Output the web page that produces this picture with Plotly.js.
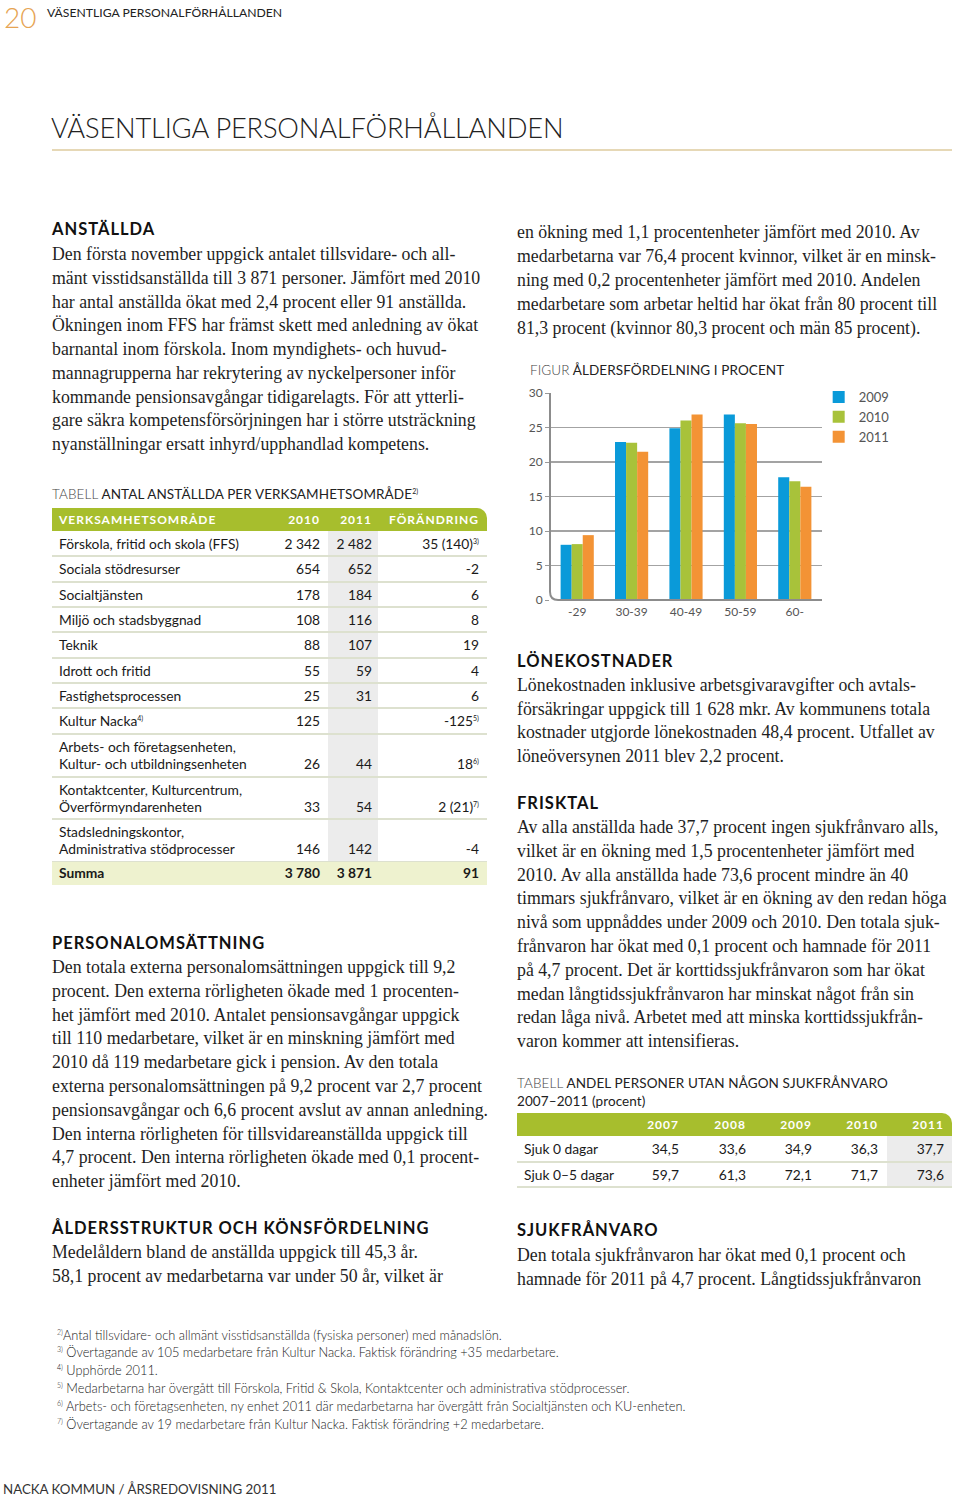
<!DOCTYPE html>
<html><head><meta charset="utf-8">
<script src="https://cdn.plot.ly/plotly-3.0.1.min.js"></script>
<style>
html,body{margin:0;padding:0;background:#fff;}
body{width:960px;height:1497px;position:relative;overflow:hidden;font-family:Lato,"Open Sans",sans-serif;color:#1a1a1a;}
.abs{position:absolute;white-space:nowrap;}
.serif{font-family:"Liberation Serif","DejaVu Serif",serif;font-size:17.8px;color:#1f1f1f;}
.h{font-family:Lato,sans-serif;font-weight:700;font-size:16.5px;letter-spacing:1px;color:#111;}
.cap{font-family:Lato,sans-serif;font-size:13.5px;letter-spacing:0.1px;color:#222;}
.cap .lt{font-weight:300;color:#444;}
.fn{font-family:Lato,sans-serif;font-weight:300;font-size:12.8px;color:#222;}
.fn sup,.cell sup{font-size:7px;vertical-align:5px;line-height:0;}
.cell{position:absolute;white-space:nowrap;font-family:Lato,sans-serif;font-size:13.8px;color:#1a1a1a;}
.hd{font-weight:700;color:#fff;font-size:12px;letter-spacing:1px;}
</style></head>
<body>
<div id="page"></div>
<div id="chart" style="position:absolute;left:517px;top:380px;width:443px;height:250px;"></div>
<script>
// ---------- chart data ----------
const ageGroups = ['-29', '30-39', '40-49', '50-59', '60-'];
const seriesNames = ['2009', '2010', '2011'];
const share2009 = [8.0, 22.9, 24.9, 26.9, 17.8];
const share2010 = [8.1, 22.8, 26.0, 25.6, 17.2];
const share2011 = [9.4, 21.5, 26.9, 25.5, 16.4];
const yTicks = [0, 5, 10, 15, 20, 25, 30];

// ---------- table 1 data ----------
const areaNames = ['Förskola, fritid och skola (FFS)', 'Sociala stödresurser', 'Socialtjänsten', 'Miljö och stadsbyggnad', 'Teknik', 'Idrott och fritid', 'Fastighetsprocessen', 'Kultur Nacka<sup>4)</sup>', 'Arbets- och företagsenheten,<br>Kultur- och utbildningsenheten', 'Kontaktcenter, Kulturcentrum,<br>Överförmyndarenheten', 'Stadsledningskontor,<br>Administrativa stödprocesser'];
const staff2010 = ['2 342', '654', '178', '108', '88', '55', '25', '125', '26', '33', '146'];
const staff2011 = ['2 482', '652', '184', '116', '107', '59', '31', '', '44', '54', '142'];
const staffChange = ['35 (140)<sup>3)</sup>', '-2', '6', '8', '19', '4', '6', '-125<sup>5)</sup>', '18<sup>6)</sup>', '2 (21)<sup>7)</sup>', '-4'];
const staffTotal = ['Summa', '3 780', '3 871', '91'];
const table1Head = ['VERKSAMHETSOMRÅDE', '2010', '2011', 'FÖRÄNDRING'];

// ---------- table 2 data ----------
const sickYears = ['2007', '2008', '2009', '2010', '2011'];
const sickRows = ['Sjuk 0 dagar', 'Sjuk 0–5 dagar'];
const sick0 = ['34,5', '33,6', '34,9', '36,3', '37,7'];
const sick05 = ['59,7', '61,3', '72,1', '71,7', '73,6'];

// ---------- texts ----------
const p1 = ['Den första november uppgick antalet tillsvidare- och all-', 'mänt visstidsanställda till 3 871 personer. Jämfört med 2010', 'har antal anställda ökat med 2,4 procent eller 91 anställda.', 'Ökningen inom FFS har främst skett med anledning av ökat', 'barnantal inom förskola. Inom myndighets- och huvud-', 'mannagrupperna har rekrytering av nyckelpersoner inför', 'kommande pensionsavgångar tidigarelagts. För att ytterli-', 'gare säkra kompetensförsörjningen har i större utsträckning', 'nyanställningar ersatt inhyrd/upphandlad kompetens.'];
const p2 = ['Den totala externa personalomsättningen uppgick till 9,2', 'procent. Den externa rörligheten ökade med 1 procenten-', 'het jämfört med 2010. Antalet pensionsavgångar uppgick', 'till 110 medarbetare, vilket är en minskning jämfört med', '2010 då 119 medarbetare gick i pension. Av den totala', 'externa personalomsättningen på 9,2 procent var 2,7 procent', 'pensionsavgångar och 6,6 procent avslut av annan anledning.', 'Den interna rörligheten för tillsvidareanställda uppgick till', '4,7 procent. Den interna rörligheten ökade med 0,1 procent-', 'enheter jämfört med 2010.'];
const p3 = ['Medelåldern bland de anställda uppgick till 45,3 år.', '58,1 procent av medarbetarna var under 50 år, vilket är'];
const p4 = ['en ökning med 1,1 procentenheter jämfört med 2010. Av', 'medarbetarna var 76,4 procent kvinnor, vilket är en minsk-', 'ning med 0,2 procentenheter jämfört med 2010. Andelen', 'medarbetare som arbetar heltid har ökat från 80 procent till', '81,3 procent (kvinnor 80,3 procent och män 85 procent).'];
const p5 = ['Lönekostnaden inklusive arbetsgivaravgifter och avtals-', 'försäkringar uppgick till 1 628 mkr. Av kommunens totala', 'kostnader utgjorde lönekostnaden 48,4 procent. Utfallet av', 'löneöversynen 2011 blev 2,2 procent.'];
const p6 = ['Av alla anställda hade 37,7 procent ingen sjukfrånvaro alls,', 'vilket är en ökning med 1,5 procentenheter jämfört med', '2010. Av alla anställda hade 73,6 procent mindre än 40', 'timmars sjukfrånvaro, vilket är en ökning av den redan höga', 'nivå som uppnåddes under 2009 och 2010. Den totala sjuk-', 'frånvaron har ökat med 0,1 procent och hamnade för 2011', 'på 4,7 procent. Det är korttidssjukfrånvaron som har ökat', 'medan långtidssjukfrånvaron har minskat något från sin', 'redan låga nivå. Arbetet med att minska korttidssjukfrån-', 'varon kommer att intensifieras.'];
const p7 = ['Den totala sjukfrånvaron har ökat med 0,1 procent och', 'hamnade för 2011 på 4,7 procent. Långtidssjukfrånvaron'];
const notes = ['<sup>2)</sup>Antal tillsvidare- och allmänt visstidsanställda (fysiska personer) med månadslön.', '<sup>3)</sup> Övertagande av 105 medarbetare från Kultur Nacka. Faktisk förändring +35 medarbetare.', '<sup>4)</sup> Upphörde 2011.', '<sup>5)</sup> Medarbetarna har övergått till Förskola, Fritid &amp; Skola, Kontaktcenter och administrativa stödprocesser.', '<sup>6)</sup> Arbets- och företagsenheten, ny enhet 2011 där medarbetarna har övergått från Socialtjänsten och KU-enheten.', '<sup>7)</sup> Övertagande av 19 medarbetare från Kultur Nacka. Faktisk förändring +2 medarbetare.'];

// ---------- page builder ----------
const page = document.getElementById('page');
function el(html, cls, x, yc, h, extra) {
  const d = document.createElement('div');
  d.className = 'abs ' + (cls || '');
  d.innerHTML = html;
  d.style.left = x + 'px';
  d.style.top = (yc - h / 2) + 'px';
  d.style.height = h + 'px';
  d.style.lineHeight = h + 'px';
  if (extra) d.style.cssText += extra;
  page.appendChild(d);
  return d;
}
function box(x, y, w, h, css) {
  const d = document.createElement('div');
  d.style.cssText = 'position:absolute;left:' + x + 'px;top:' + y + 'px;width:' + w + 'px;height:' + h + 'px;' + css;
  page.appendChild(d);
}
function para(arr, x, y0, step) {
  arr.forEach((t, i) => el(t, 'serif', x, y0 + i * step, 24));
}
function rcell(html, xr, yc, h, extra, cls) {
  const d = el(html, cls || 'cell', 0, yc, h, extra);
  d.style.left = '';
  d.style.right = (960 - xr) + 'px';
  return d;
}

// header
el('20', '', 4, 17, 34, 'font-family:Lato;font-weight:300;font-size:28px;color:#e6a453;');
el('VÄSENTLIGA PERSONALFÖRHÅLLANDEN', '', 47, 13, 16, 'font-family:Lato;font-size:12.2px;color:#222;');
el('VÄSENTLIGA PERSONALFÖRHÅLLANDEN', '', 51, 128, 34, 'font-family:Lato;font-weight:300;font-size:27.3px;color:#222;letter-spacing:-0.2px;');
box(52, 149, 900, 1.5, 'background:#e6d8b6;');

// left column
el('ANSTÄLLDA', 'h', 52, 229, 20);
para(p1, 52, 254, 23.75);
el('<span class="lt">TABELL</span> ANTAL ANSTÄLLDA PER VERKSAMHETSOMRÅDE<sup style="font-size:7px;vertical-align:5px;line-height:0">2)</sup>', 'cap', 52, 494, 18);

// table 1
const green = '#a7be2d';
box(52, 508, 435, 23, 'background:' + green + ';border-top-right-radius:10px;');
const c1 = [59, 320, 372, 479];
el(table1Head[0], 'cell hd', c1[0], 519.5, 20);
[1, 2, 3].forEach(k => rcell(table1Head[k], c1[k], 519.5, 20, '', 'cell hd'));
const rowH = [25, 26, 25, 25, 26, 25, 25, 26, 43, 42, 43];
let y = 531;
box(328, 531, 50, 331, 'background:#ececec;');
areaNames.forEach((nm, i) => {
  const h = rowH[i];
  const two = nm.indexOf('<br>') >= 0;
  const d = document.createElement('div');
  d.className = 'cell';
  d.style.cssText += 'left:59px;top:' + (y + (two ? 4 : 0)) + 'px;line-height:' + (two ? '17px' : h + 'px') + ';';
  d.innerHTML = nm;
  page.appendChild(d);
  const yc = two ? y + 4 + 17 + 8.5 : y + h / 2;
  [staff2010[i], staff2011[i], staffChange[i]].forEach((v, k) => rcell(v, c1[k + 1], yc, 18));
  y += h;
  box(52, y - 1, 435, 2, 'background:#dde1cf;');
});
box(52, 862, 435, 23, 'background:#eef2cf;');
el(staffTotal[0], 'cell', 59, 873, 20, 'font-weight:700;');
[1, 2, 3].forEach(k => rcell(staffTotal[k], c1[k], 873, 20, 'font-weight:700;'));

el('PERSONALOMSÄTTNING', 'h', 52, 943, 20);
para(p2, 52, 967, 23.8);
el('ÅLDERSSTRUKTUR OCH KÖNSFÖRDELNING', 'h', 52, 1228, 20);
para(p3, 52, 1252, 24);

// right column
para(p4, 517, 232, 24);
el('<span class="lt">FIGUR</span> ÅLDERSFÖRDELNING I PROCENT', 'cap', 530, 370, 18);
el('LÖNEKOSTNADER', 'h', 517, 661, 20);
para(p5, 517, 685, 23.7);
el('FRISKTAL', 'h', 517, 803, 20);
para(p6, 517, 827, 23.8);
el('<span class="lt">TABELL</span> ANDEL PERSONER UTAN NÅGON SJUKFRÅNVARO', 'cap', 517, 1083, 18);
el('2007–2011 (procent)', 'cap', 517, 1101, 18);

// table 2
box(517, 1113, 435, 23, 'background:' + green + ';border-top-right-radius:10px;');
box(887, 1136, 65, 51, 'background:#ececec;');
const c2 = [679, 746, 812, 878, 944];
sickYears.forEach((yr, k) => rcell(yr, c2[k], 1124.5, 20, '', 'cell hd'));
[sick0, sick05].forEach((vals, r) => {
  const yc = 1149 + r * 25.5;
  el(sickRows[r], 'cell', 524, yc, 20);
  vals.forEach((v, k) => rcell(v, c2[k], yc, 20));
  box(517, 1136 + (r + 1) * 25.5 - 1, 435, 2, 'background:#dde1cf;');
});

el('SJUKFRÅNVARO', 'h', 517, 1230, 20);
para(p7, 517, 1255, 24);

// footnotes
notes.forEach((t, i) => el(t, 'fn', 57, 1335 + i * 17.8, 17));
el('NACKA KOMMUN / ÅRSREDOVISNING 2011', '', 3, 1489, 16, 'font-family:Lato;font-size:13.3px;color:#333;');

// ---------- chart ----------
const colors = ['#0a9ad9', '#a8c23a', '#f39335'];
const values = [share2009, share2010, share2011];
const traces = seriesNames.map((n, i) => ({
  type: 'bar', name: n, x: ageGroups, y: values[i],
  marker: { color: colors[i], line: { width: 0 } }
}));
const layout = {
  width: 443, height: 250,
  margin: { l: 33, r: 138, t: 13, b: 30, autoexpand: false },
  paper_bgcolor: 'rgba(0,0,0,0)', plot_bgcolor: 'rgba(0,0,0,0)',
  barmode: 'group', bargap: 0.39, bargroupgap: 0,
  font: { family: 'Lato, sans-serif', size: 12, color: '#555' },
  xaxis: { type: 'category', showgrid: false, zeroline: false, showline: false, ticks: '', ticklabelstandoff: 3, tickfont: { size: 12, color: '#555' }, range: [-0.5, 4.5] },
  yaxis: { range: [0, 30], tickvals: yTicks, showgrid: true, gridcolor: '#a3a3a3', gridwidth: 1.5, zeroline: false, showline: false, ticks: 'outside', ticklen: 4, tickcolor: '#999', tickwidth: 1, tickfont: { size: 12, color: '#555' } },
  legend: { xref: 'container', yref: 'container', x: 0.681, xanchor: 'left', y: 0.992, yanchor: 'top', bgcolor: 'rgba(0,0,0,0)', font: { size: 13, color: '#555' }, tracegroupgap: 0 },
  showlegend: true,
  shapes: [{ type: 'path', xref: 'paper', yref: 'paper', path: 'M 0,1 L 0,0.04 Q 0,0 0.03,0 L 1,0', line: { color: '#8c8c8c', width: 2 }, layer: 'above' }]
};
Plotly.newPlot('chart', traces, layout, { displayModeBar: false, staticPlot: true });
</script>
</body></html>
